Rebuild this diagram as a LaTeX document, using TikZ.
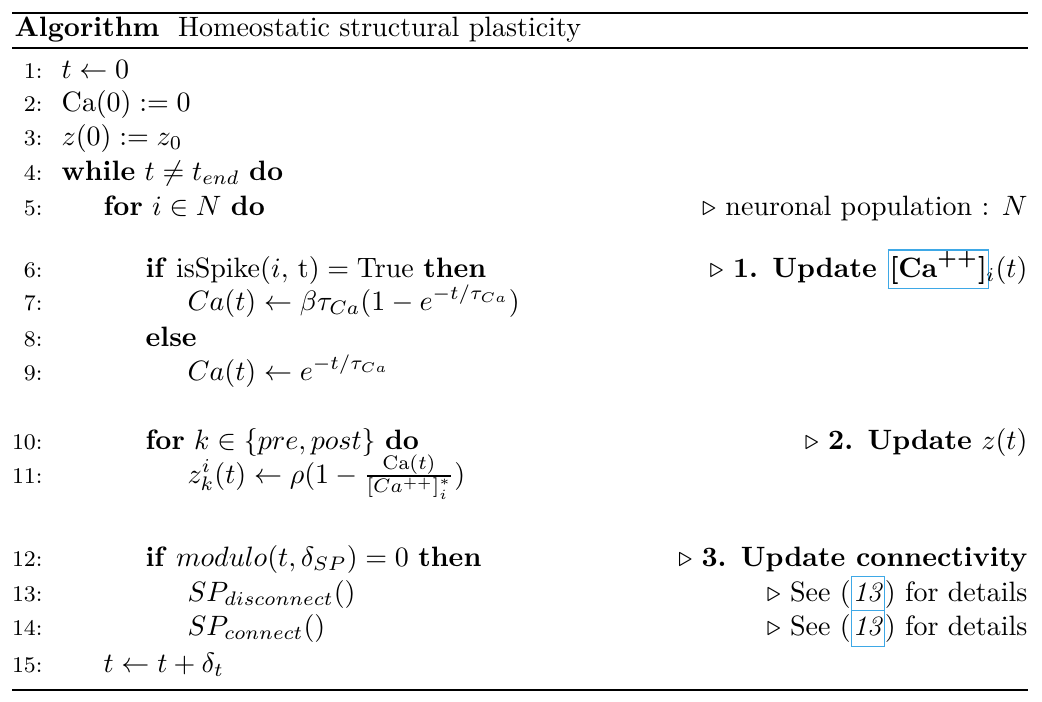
\documentclass[tikz,border=0pt]{standalone}
\usepackage{tikz}
\usepackage{xcolor}

\definecolor{linkblue}{RGB}{62,168,230}
\newcommand{\lnkbox}[1]{{\setlength{\fboxsep}{0.3pt}\setlength{\fboxrule}{0.4pt}\fcolorbox{linkblue}{white}{\strut#1}}}

\begin{document}
\begin{tikzpicture}[x=0.357pt,y=-0.357pt,inner sep=0pt]

  \tikzstyle{num}=[anchor=base east,font=\footnotesize]
  \tikzstyle{code}=[anchor=base west]
  \tikzstyle{note}=[anchor=base east]
  \tikzstyle{hrule}=[line width=0.8pt]

  \useasboundingbox (0,0) rectangle (1042,701);

  \draw[hrule] (12,13) -- (1028,13);
  \node[code] (TITLE) at (14,36) {\textbf{Algorithm}\ \ Homeostatic structural plasticity};
  \draw[line width=0.4pt] (12,48) -- (1028,48);

  % the numbered lines
  \foreach \n/\y/\x/\txt in {
      1/78/61/{$t \gets 0$},
      2/111/61/{$\mathrm{Ca}(0) := 0$},
      3/145/61/{$z(0) := z_0$},
      4/180/61/{\textbf{while} $t \neq t_{end}$ \textbf{do}},
      5/215/103/{\textbf{for} $i \in N$ \textbf{do}},
      6/277/145/{\textbf{if} $\mathrm{isSpike}(i,\,\mathrm{t}) = \mathrm{True}$ \textbf{then}},
      7/310/187/{$Ca(t) \gets \beta\tau_{Ca}(1 - e^{-t/\tau_{Ca}})$},
      8/346/145/{\textbf{else}},
      9/380/187/{$Ca(t) \gets e^{-t/\tau_{Ca}}$},
      10/449/145/{\textbf{for} $k \in \{pre, post\}$ \textbf{do}},
      11/483/187/{$z_k^i(t) \gets \rho(1 - \frac{\mathrm{Ca}(t)}{[Ca^{++}]_i^*})$},
      12/566/145/{\textbf{if} $modulo(t, \delta_{SP}) = 0$ \textbf{then}},
      13/601/187/{$SP_{disconnect}()$},
      14/635/187/{$SP_{connect}()$},
      15/672/103/{$t \gets t + \delta_t$}}
  {
    \node[num]  (N\n) at (43,\y) {\n:};
    \node[code] (L\n) at (\x,\y) {\txt};
  }

  % comments on the right
  \node[note] (C5)  at (1028,215) {$\triangleright$ neuronal population : $N$};
  \node[note] (C6)  at (1028,277) {$\triangleright$ \textbf{1. Update \lnkbox{\boldmath$[\mathbf{Ca}^{++}]$}}\kern-1pt$_i(t)$};
  \node[note] (C10) at (1028,449) {$\triangleright$ \textbf{2. Update} $z(t)$};
  \node[note] (C12) at (1028,566) {$\triangleright$ \textbf{3. Update connectivity}};
  \node[note] (C13) at (1028,601) {$\triangleright$ See (\lnkbox{\textit{13}}) for details};
  \node[note] (C14) at (1028,635) {$\triangleright$ See (\lnkbox{\textit{13}}) for details};

  \draw[hrule] (12,690) -- (1028,690);
\end{tikzpicture}
\end{document}
